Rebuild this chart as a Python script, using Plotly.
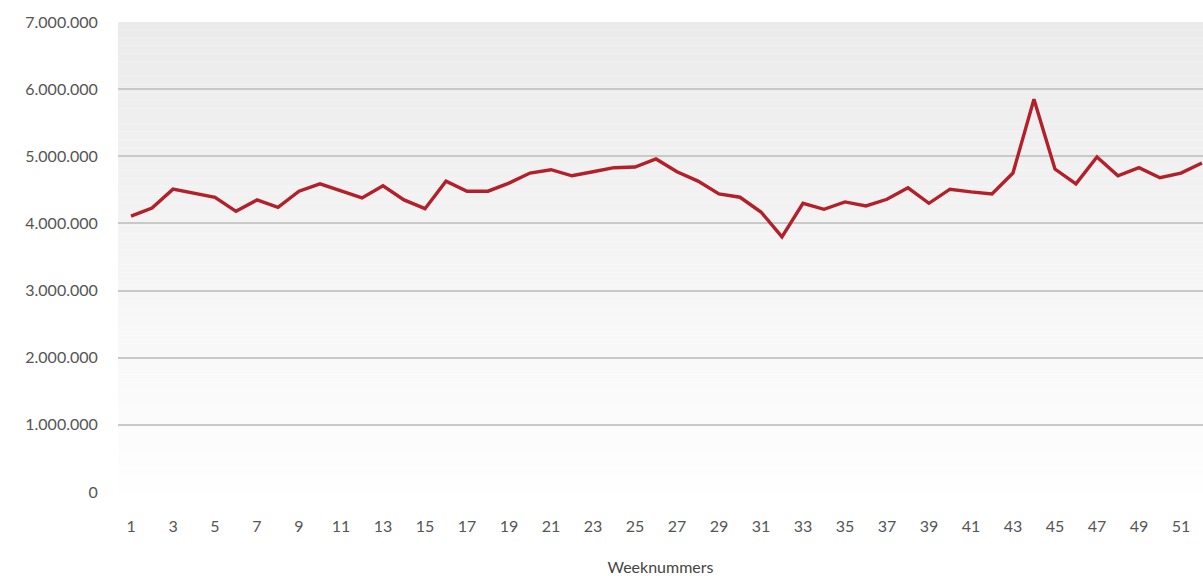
import plotly.graph_objects as go

weeks = list(range(1, 53))
values = [4110000, 4230000, 4510000, 4450000, 4390000, 4180000, 4350000, 4240000, 4480000, 4590000,
          4480000, 4380000, 4560000, 4350000, 4220000, 4630000, 4480000, 4480000, 4600000, 4750000,
          4800000, 4710000, 4770000, 4830000, 4840000, 4960000, 4770000, 4630000, 4440000, 4390000,
          4170000, 3800000, 4300000, 4210000, 4320000, 4260000, 4360000, 4530000, 4300000, 4510000,
          4470000, 4440000, 4750000, 5850000, 4810000, 4590000, 4990000, 4710000, 4830000, 4680000,
          4750000, 4900000]
y_ticks = [0, 1000000, 2000000, 3000000, 4000000, 5000000, 6000000, 7000000]
y_labels = ["0", "1.000.000", "2.000.000", "3.000.000", "4.000.000", "5.000.000", "6.000.000", "7.000.000"]

fig = go.Figure()
fig.add_trace(go.Scatter(x=weeks, y=values, mode="lines",
                         line=dict(color="#b3202a", width=3.4), hoverinfo="x+y"))

# vertical gradient background
shapes = []
N = 60
top = (235, 235, 235)
bot = (254, 254, 254)
for i in range(N):
    t = i / (N - 1)
    c = tuple(round(top[k] + (bot[k] - top[k]) * t) for k in range(3))
    shapes.append(dict(type="rect", xref="paper", yref="paper", x0=0, x1=1,
                       y0=1 - (i + 1) / N, y1=1 - i / N, fillcolor="rgb(%d,%d,%d)" % c,
                       line=dict(width=0), layer="below"))

fig.update_layout(
    width=1203, height=576,
    margin=dict(l=118, r=0, t=22, b=84),
    paper_bgcolor="white", plot_bgcolor="rgba(0,0,0,0)",
    shapes=shapes, showlegend=False,
    font=dict(family="Lato, Open Sans, sans-serif", color="#555555", size=16),
)
fig.update_xaxes(range=[0.38, 52.05], tickmode="linear", tick0=1, dtick=2,
                 showgrid=False, zeroline=False, showline=False, automargin=False,
                 ticks="outside", ticklen=20, tickcolor="rgba(0,0,0,0)",
                 tickfont=dict(size=16, color="#555555"),
                 title=dict(text="Weeknummers", font=dict(size=16, color="#444444"), standoff=28))
fig.update_yaxes(range=[0, 7000000], tickvals=y_ticks, ticktext=y_labels, automargin=False,
                 showgrid=True, gridcolor="#c9c9c9", gridwidth=1.5, zeroline=False,
                 ticks="outside", ticklen=16, tickcolor="rgba(0,0,0,0)",
                 tickfont=dict(size=16, color="#555555"))

fig.write_html("out.html", config={"displayModeBar": False},
               post_script="document.body.style.margin='0';document.body.style.overflow='hidden';")
